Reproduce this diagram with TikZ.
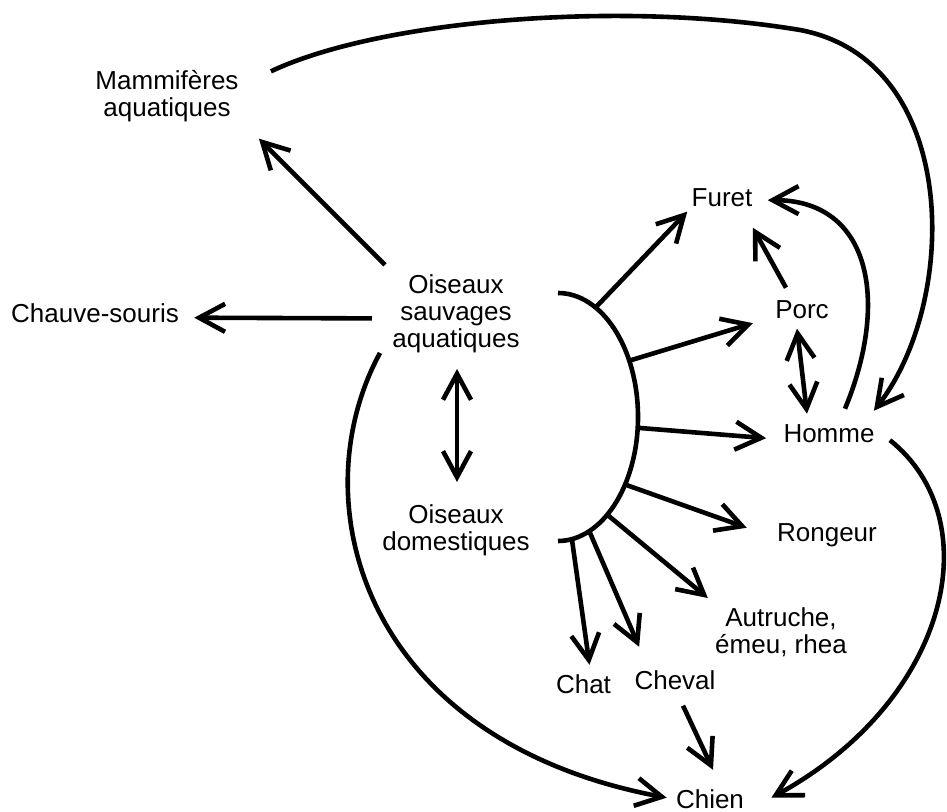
\documentclass[tikz,border=0pt]{standalone}
\usepackage{fontspec}
\setmainfont{Liberation Sans}
\usetikzlibrary{arrows.meta}
\tikzset{
  lbl/.style={inner sep=0pt,align=center,font=\fontsize{13}{13.5}\selectfont},
  arr/.style={line width=2.3pt,-{Straight Barb[length=13pt,width=14pt]}},
  darr/.style={line width=2.3pt,{Straight Barb[length=13pt,width=14pt]}-{Straight Barb[length=13pt,width=14pt]}}
}
\begin{document}
\begin{tikzpicture}[x=0.5pt,y=-0.5pt]
\useasboundingbox (0,0) rectangle (947,812);
% noeuds
\node[lbl] (mam) at (167,96.5) {Mammifères\\aquatiques};
\node[lbl,anchor=base] (chs) at (95,323) {Chauve-souris};
\node[lbl] (osa) at (456,313.4) {Oiseaux\\sauvages\\aquatiques};
\node[lbl] (odo) at (456,530) {Oiseaux\\domestiques};
\node[lbl,anchor=base] (fur) at (722,207) {Furet};
\node[lbl,anchor=base] (por) at (802,319) {Porc};
\node[lbl,anchor=base] (hom) at (829,442) {Homme};
\node[lbl,anchor=base] (ron) at (827,541) {Rongeur};
\node[lbl] (aut) at (781,632) {Autruche,\\émeu, rhea};
\node[lbl,anchor=base] (cht) at (583.5,693) {Chat};
\node[lbl,anchor=base] (chv) at (675,689) {Cheval};
\node[lbl,anchor=base] (chn) at (710,808) {Chien};
% demi-ellipse
\coordinate (arcc) at (558,417);
\draw[line width=2.3pt] (558,293) arc[start angle=-90,end angle=90,x radius=80,y radius=124];
\foreach \n/\t in {fur/62,por/27,hom/-5,ron/-33,aut/-52,chv/-67,cht/-80}
  \coordinate (a\n) at ([shift={({80*cos(\t)},{-124*sin(\t)})}]arcc);
\draw[arr] (afur)--([shift={(-4,4)}]fur.south west);
\draw[arr] (apor)--([shift={(-22,13)}]por.west);
\draw[arr] (ahom)--([shift={(-17,5)}]hom.west);
\draw[arr] (aron)--([shift={(-30,-7)}]ron.west);
\draw[arr] (aaut)--([shift={(-7,-9)}]aut.north west);
\draw[arr] (achv)--([shift={(5,-23)}]chv.north west);
\draw[arr] (acht)--([shift={(6,-9)}]cht.north);
% oiseaux sauvages
\draw[arr] ([shift={(-7,-9)}]osa.north west)--([shift={(20,16)}]mam.south east);
\draw[arr] ([shift={(-20,5)}]osa.west)--([shift={(15,4)}]chs.east);
\draw[darr] ([shift={(1,16)}]osa.south)--([shift={(1,-22)}]odo.north);
\draw[arr] ([shift={(-12,0)}]osa.south west) .. controls (300,500) and (360,740) .. ([shift={(-9,-1)}]chn.west);
% courbes
\draw[arr] ([shift={(32,1)}]mam.north east) .. controls (380,20) and (620,0) .. (800,30)
  .. controls (960,60) and (960,300) .. ([shift={(-1,-13)}]hom.north east);
\draw[arr] ([shift={(16,-15)}]hom.north) .. controls (890,300) and (870,200) .. ([shift={(15,2)}]fur.east);
\draw[arr] ([shift={(-16,-13)}]por.north)--([shift={(0,20)}]fur.south east);
\draw[darr] ([shift={(-5,9)}]por.south)--([shift={(-22,-10)}]hom.north);
\draw[arr] ([shift={(15,7)}]hom.east) .. controls (990,520) and (950,700) .. ([shift={(27,-1)}]chn.east);
\draw[arr] ([shift={(8,16)}]chv.south)--([shift={(3,-19)}]chn.north);
\end{tikzpicture}
\end{document}
